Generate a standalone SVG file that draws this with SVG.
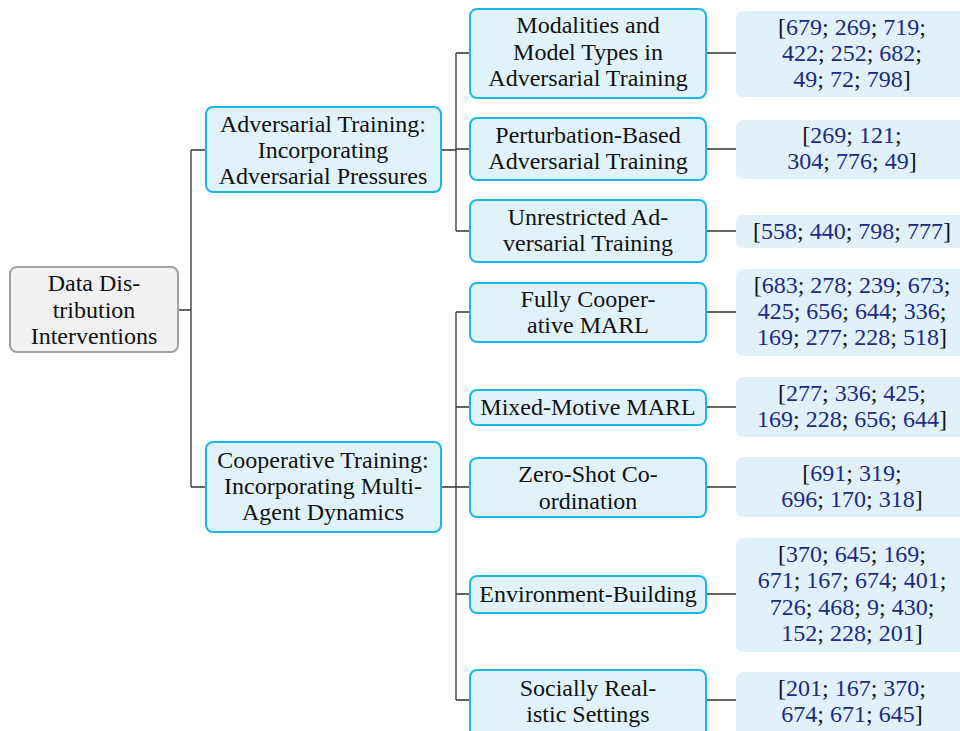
<svg xmlns="http://www.w3.org/2000/svg" width="960" height="731" viewBox="0 0 960 731" font-family="'Liberation Serif', 'DejaVu Serif', serif">
<style>
text{font-family:'Liberation Serif','Times New Roman','DejaVu Serif',serif;font-size:24px;fill:#111;text-anchor:middle}
.n{fill:#1c2a82}
.root{fill:#f1f1f1;stroke:#a3a3a3;stroke-width:2}
.cat{fill:#e1f3fa;stroke:#1bb7e6;stroke-width:2}
.ref{fill:#e0f1fa;stroke:none}
.c{fill:none;stroke:#333;stroke-width:1.3}
</style>
<g id="connectors">
<path class="c" d="M178 310H191M191 150V487M191 150H206M191 487H206"/>
<path class="c" d="M441 150H456M456 53V231M456 53H470M456 149H470M456 231H470"/>
<path class="c" d="M441 487H456M456 312V700M456 312H470M456 407H470M456 487H470M456 594H470M456 700H470"/>
<path class="c" d="M706 53H736M706 149H736M706 231H736M706 312H736M706 407H736M706 487H736M706 594H736M706 700H736"/>
</g>
<g id="root">
<rect class="root" x="10" y="267" width="168" height="85" rx="7"/>
<text x="94" y="291">Data Dis-</text><text x="94" y="318">tribution</text><text x="94" y="344">Interventions</text>
</g>
<g id="adversarial">
<rect class="cat" x="206" y="107" width="235" height="85" rx="7"/>
<text x="323" y="132">Adversarial Training:</text><text x="323" y="158">Incorporating</text><text x="323" y="184">Adversarial Pressures</text>
</g>
<g id="cooperative">
<rect class="cat" x="206" y="442" width="235" height="90" rx="7"/>
<text x="323" y="468">Cooperative Training:</text><text x="323" y="494">Incorporating Multi-</text><text x="323" y="520">Agent Dynamics</text>
</g>
<g id="modalities">
<rect class="cat" x="470" y="9" width="236" height="89" rx="7"/>
<text x="588" y="33">Modalities and</text><text x="588" y="60">Model Types in</text><text x="588" y="86">Adversarial Training</text>
</g>
<g id="perturbation">
<rect class="cat" x="470" y="118" width="236" height="62" rx="7"/>
<text x="588" y="143">Perturbation-Based</text><text x="588" y="169">Adversarial Training</text>
</g>
<g id="unrestricted">
<rect class="cat" x="470" y="200" width="236" height="62" rx="7"/>
<text x="588" y="225">Unrestricted Ad-</text><text x="588" y="251">versarial Training</text>
</g>
<g id="fullycoop">
<rect class="cat" x="470" y="283" width="236" height="59" rx="7"/>
<text x="588" y="307">Fully Cooper-</text><text x="588" y="333">ative MARL</text>
</g>
<g id="mixed">
<rect class="cat" x="470" y="390" width="236" height="35" rx="7"/>
<text x="588" y="415">Mixed-Motive MARL</text>
</g>
<g id="zeroshot">
<rect class="cat" x="470" y="458" width="236" height="59" rx="7"/>
<text x="588" y="482">Zero-Shot Co-</text><text x="588" y="509">ordination</text>
</g>
<g id="environment">
<rect class="cat" x="470" y="576" width="236" height="37" rx="7"/>
<text x="588" y="602">Environment-Building</text>
</g>
<g id="socially">
<rect class="cat" x="470" y="670" width="236" height="70" rx="7"/>
<text x="588" y="696">Socially Real-</text><text x="588" y="722">istic Settings</text>
</g>
<g id="ref1">
<rect class="ref" x="736" y="11" width="240" height="86" rx="7"/>
<text x="852" y="35">[<tspan class="n">679</tspan>; <tspan class="n">269</tspan>; <tspan class="n">719</tspan>;</text>
<text x="852" y="61"><tspan class="n">422</tspan>; <tspan class="n">252</tspan>; <tspan class="n">682</tspan>;</text>
<text x="852" y="87"><tspan class="n">49</tspan>; <tspan class="n">72</tspan>; <tspan class="n">798</tspan>]</text>
</g>
<g id="ref2">
<rect class="ref" x="736" y="120" width="240" height="59" rx="7"/>
<text x="852" y="143">[<tspan class="n">269</tspan>; <tspan class="n">121</tspan>;</text>
<text x="852" y="169"><tspan class="n">304</tspan>; <tspan class="n">776</tspan>; <tspan class="n">49</tspan>]</text>
</g>
<g id="ref3">
<rect class="ref" x="736" y="215" width="240" height="33" rx="7"/>
<text x="852" y="239">[<tspan class="n">558</tspan>; <tspan class="n">440</tspan>; <tspan class="n">798</tspan>; <tspan class="n">777</tspan>]</text>
</g>
<g id="ref4">
<rect class="ref" x="736" y="269" width="240" height="87" rx="7"/>
<text x="852" y="293">[<tspan class="n">683</tspan>; <tspan class="n">278</tspan>; <tspan class="n">239</tspan>; <tspan class="n">673</tspan>;</text>
<text x="852" y="319"><tspan class="n">425</tspan>; <tspan class="n">656</tspan>; <tspan class="n">644</tspan>; <tspan class="n">336</tspan>;</text>
<text x="852" y="345"><tspan class="n">169</tspan>; <tspan class="n">277</tspan>; <tspan class="n">228</tspan>; <tspan class="n">518</tspan>]</text>
</g>
<g id="ref5">
<rect class="ref" x="736" y="377" width="240" height="60" rx="7"/>
<text x="852" y="401">[<tspan class="n">277</tspan>; <tspan class="n">336</tspan>; <tspan class="n">425</tspan>;</text>
<text x="852" y="427"><tspan class="n">169</tspan>; <tspan class="n">228</tspan>; <tspan class="n">656</tspan>; <tspan class="n">644</tspan>]</text>
</g>
<g id="ref6">
<rect class="ref" x="736" y="457" width="240" height="60" rx="7"/>
<text x="852" y="481">[<tspan class="n">691</tspan>; <tspan class="n">319</tspan>;</text>
<text x="852" y="507"><tspan class="n">696</tspan>; <tspan class="n">170</tspan>; <tspan class="n">318</tspan>]</text>
</g>
<g id="ref7">
<rect class="ref" x="736" y="538" width="240" height="114" rx="7"/>
<text x="852" y="562">[<tspan class="n">370</tspan>; <tspan class="n">645</tspan>; <tspan class="n">169</tspan>;</text>
<text x="852" y="588"><tspan class="n">671</tspan>; <tspan class="n">167</tspan>; <tspan class="n">674</tspan>; <tspan class="n">401</tspan>;</text>
<text x="852" y="615"><tspan class="n">726</tspan>; <tspan class="n">468</tspan>; <tspan class="n">9</tspan>; <tspan class="n">430</tspan>;</text>
<text x="852" y="641"><tspan class="n">152</tspan>; <tspan class="n">228</tspan>; <tspan class="n">201</tspan>]</text>
</g>
<g id="ref8">
<rect class="ref" x="736" y="672" width="240" height="70" rx="7"/>
<text x="852" y="696">[<tspan class="n">201</tspan>; <tspan class="n">167</tspan>; <tspan class="n">370</tspan>;</text>
<text x="852" y="722"><tspan class="n">674</tspan>; <tspan class="n">671</tspan>; <tspan class="n">645</tspan>]</text>
</g>
</svg>
